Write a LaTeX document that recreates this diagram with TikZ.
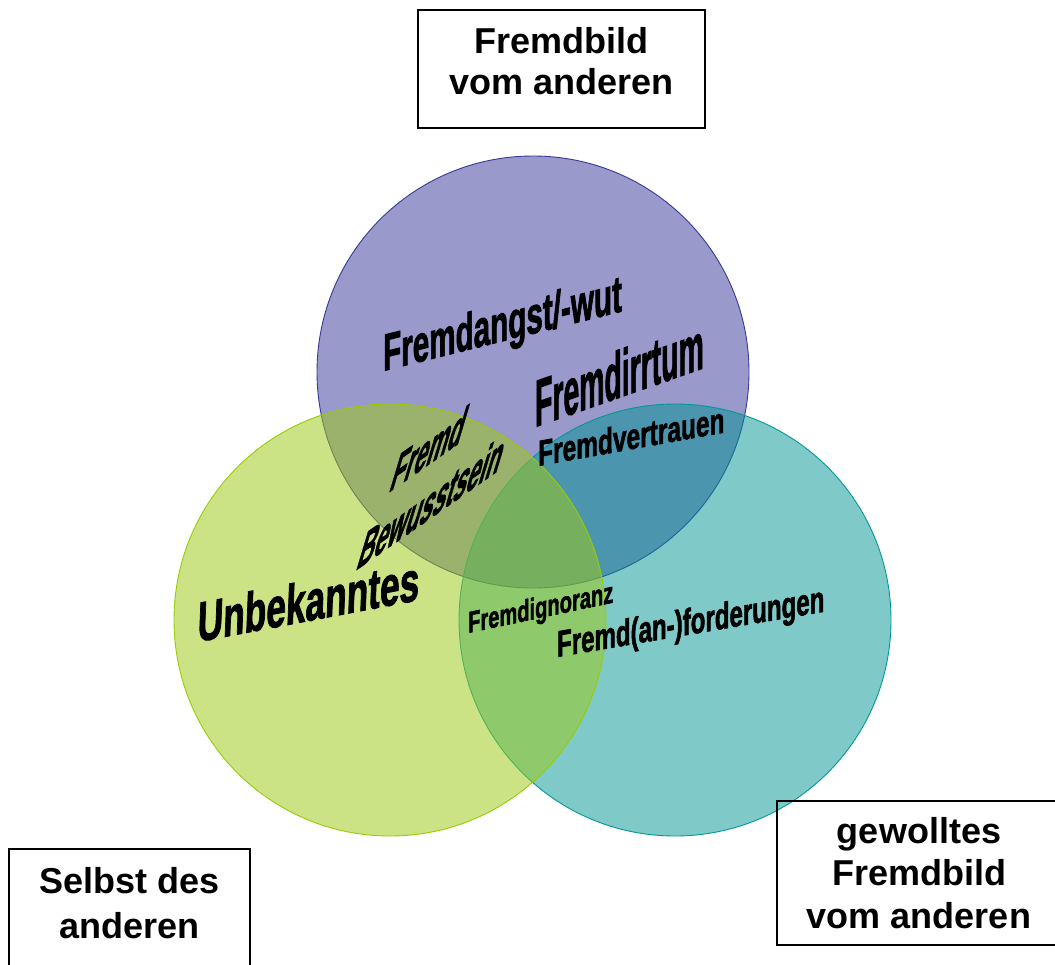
\documentclass[tikz,border=0pt]{standalone}
\usepackage{fontspec}
\setmainfont{Liberation Sans}
\newfontfamily\wordfont{Liberation Sans Bold}[FakeBold=2]
\newcommand{\wordsize}[1]{\wordfont\fontsize{#1}{#1}\selectfont}
\usepackage{xcolor}
\usepackage{tikz}
\definecolor{fbpurple}{HTML}{9999CC}
\definecolor{fbpurpleedge}{HTML}{383894}
\definecolor{fbgreen}{HTML}{9DC916}
\definecolor{fbgreenedge}{HTML}{99CC00}
\definecolor{fbteal}{HTML}{009393}
\definecolor{fbtealedge}{HTML}{009999}

\begin{document}
\begin{tikzpicture}[x=1pt, y=-1pt,
    venn/.style={circle, minimum size=432pt, line width=0.9pt},
    frame/.style={draw, line width=1.2pt, align=center, inner sep=0pt},
    word/.style={anchor=base west, inner sep=0pt, transform shape}]
    \useasboundingbox (0,0) rectangle (1055,964);

    \node [venn, fill=fbpurple, draw=fbpurpleedge] (bild) at (533,372) {};
    \node [venn, fill=fbteal, fill opacity=0.5, draw=fbtealedge] (gewollt) at (675,620) {};
    \node [venn, fill=fbgreen, fill opacity=0.52, draw=fbgreenedge] (selbst) at (390,620) {};

    \node [frame, minimum width=287pt, minimum height=118pt, text depth=17pt, font=\bfseries\fontsize{36}{41}\selectfont] (fremdbild) at (561.5,69) {Fremdbild\\vom anderen};
    \node [frame, minimum width=241pt, minimum height=118pt, text depth=11pt, font=\bfseries\fontsize{36}{45}\selectfont] (selbstbox) at (129.5,908) {Selbst des\\anderen};
    \node [frame, minimum width=284pt, minimum height=144pt, font=\bfseries\fontsize{36}{42.5}\selectfont] (gewolltbox) at (919,873) {gewolltes\\Fremdbild\\vom anderen};

    \node [word, yslant=0.25, xscale=0.57, font=\wordsize{52}] (angst) at (383,371) {Fremdangst/-wut};
    \node [word, yslant=0.35, xscale=0.43, font=\wordsize{66}] (irrtum) at (535,427) {Fremdirrtum};
    \node [word, yslant=0.18, xscale=0.68, font=\wordsize{36}] (vertrauen) at (538,466) {Fremdvertrauen};
    \node [word, yslant=0.7, xslant=0.38, xscale=0.53, font=\wordsize{44}] (fremd) at (388,493) {Fremd};
    \node [word, yslant=0.7, xslant=0.38, xscale=0.53, font=\wordsize{44}] (bewusst) at (355,571) {Bewusstsein};
    \node [word, yslant=0.19, xslant=0.04, xscale=0.63, font=\wordsize{56}] (unbekannt) at (197,642) {Unbekanntes};
    \node [word, yslant=0.21, xscale=0.67, font=\wordsize{30}] (ignoranz) at (468,633) {Fremdignoranz};
    \node [word, yslant=0.17, xscale=0.65, font=\wordsize{37}] (forderung) at (557,657) {Fremd(an-)forderungen};
\end{tikzpicture}
\end{document}
